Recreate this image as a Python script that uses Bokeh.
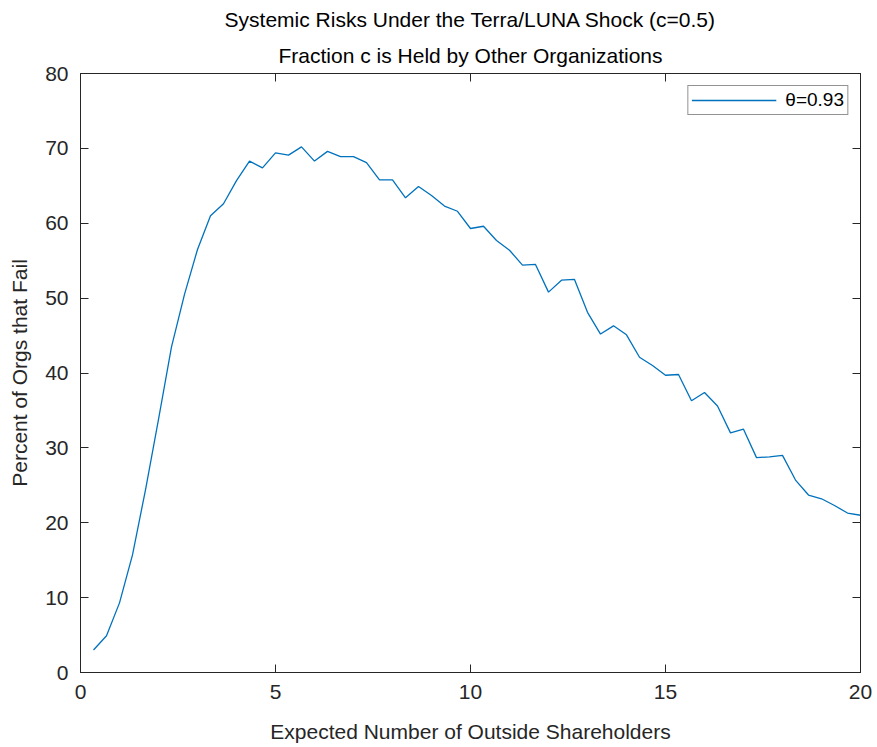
from bokeh.plotting import figure
from bokeh.models import Title, LinearAxis, FixedTicker, Range1d, Legend, LegendItem, CustomJSTickFormatter
from bokeh.embed import file_html
from bokeh.resources import INLINE

# Data
x_vals = [k / 3 for k in range(1, 61)]
pct_fail = [3.0, 4.9, 9.3, 15.7, 24.4, 33.8, 43.5, 50.5, 56.5, 61.0,
            62.6, 65.7, 68.3, 67.4, 69.4, 69.1, 70.2, 68.3, 69.6, 68.9,
            68.9, 68.1, 65.8, 65.8, 63.4, 64.9, 63.7, 62.3, 61.6, 59.3,
            59.6, 57.7, 56.4, 54.4, 54.5, 50.8, 52.4, 52.5, 48.1, 45.2,
            46.3, 45.1, 42.1, 41.0, 39.7, 39.8, 36.3, 37.4, 35.6, 32.0,
            32.5, 28.7, 28.8, 29.0, 25.7, 23.7, 23.2, 22.3, 21.3, 21.0]
x_ticks = [0, 5, 10, 15, 20]
y_ticks = [0, 10, 20, 30, 40, 50, 60, 70, 80]
title_1 = "Systemic Risks Under the Terra/LUNA Shock (c=0.5)"
title_2 = "Fraction c is Held by Other Organizations"
x_label = "Expected Number of Outside Shareholders"
y_label = "Percent of Orgs that Fail"
legend_label = "\u03b8=0.93"

FONT = "Liberation Sans"
AX = "#262626"
LINE = "#0072BD"

p = figure(width=877, height=747, output_backend="svg", toolbar_location=None,
           x_range=Range1d(0, 20), y_range=Range1d(0, 80),
           min_border_left=80, min_border_right=17, min_border_top=73, min_border_bottom=75,
           x_axis_location=None, y_axis_location=None)
p.background_fill_color = "white"
p.border_fill_color = "white"
p.outline_line_color = AX
p.outline_line_width = 1
p.xgrid.visible = False
p.ygrid.visible = False

def style(ax, show_labels):
    ax.major_tick_in = 8
    ax.major_tick_out = 0
    ax.minor_tick_in = 0
    ax.minor_tick_out = 0
    ax.axis_line_color = AX
    ax.major_tick_line_color = AX
    ax.major_label_text_color = AX
    ax.major_label_text_font = FONT
    ax.axis_label_text_font = FONT
    ax.axis_label_text_color = AX
    ax.axis_label_text_font_style = "normal"
    if show_labels:
        ax.major_label_text_font_size = "21px"
        ax.axis_label_text_font_size = "21px"
    else:
        ax.major_label_text_font_size = "0px"
        ax.major_label_standoff = 0
        ax.formatter = CustomJSTickFormatter(code="return '';")

xb = LinearAxis(ticker=FixedTicker(ticks=x_ticks), axis_label=x_label)
style(xb, True)
xb.major_label_standoff = 12
xb.axis_label_standoff = 18
p.add_layout(xb, "below")

yl = LinearAxis(ticker=FixedTicker(ticks=y_ticks), axis_label=y_label)
style(yl, True)
yl.major_label_standoff = 12
yl.axis_label_standoff = 11
p.add_layout(yl, "left")

xt = LinearAxis(ticker=FixedTicker(ticks=x_ticks))
style(xt, False)
p.add_layout(xt, "above")

yr = LinearAxis(ticker=FixedTicker(ticks=y_ticks))
style(yr, False)
p.add_layout(yr, "right")

r = p.line(x_vals, pct_fail, line_color=LINE, line_width=1.3)

leg = Legend(items=[LegendItem(label=legend_label, renderers=[r])], location="top_right")
leg.label_text_font = FONT
leg.label_text_font_size = "19px"
leg.label_text_color = "#000000"
leg.border_line_color = AX
leg.border_line_width = 1
leg.padding = 3
leg.margin = 12
leg.glyph_width = 85
leg.glyph_height = 20
leg.label_standoff = 9
leg.label_height = 20
leg.background_fill_alpha = 1
p.add_layout(leg)

t2 = Title(text=title_2, align="center", text_font=FONT, text_font_size="21px",
           text_font_style="normal", text_color="#000000", standoff=13)
t1 = Title(text=title_1, align="center", text_font=FONT, text_font_size="21px",
           text_font_style="normal", text_color="#000000", standoff=10)
p.add_layout(t2, "above")
p.add_layout(t1, "above")

open("out.html", "w").write(file_html(p, INLINE))
